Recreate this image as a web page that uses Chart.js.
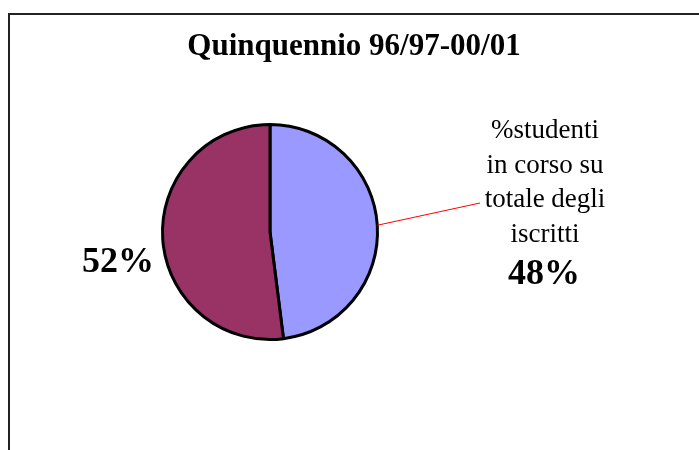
<!DOCTYPE html>
<html>
<head>
<meta charset="utf-8">
<script src="https://cdn.jsdelivr.net/npm/chart.js@4"></script>
<style>
  html, body { margin: 0; padding: 0; background: #fff; }
  #wrap { width: 699px; height: 450px; }
</style>
</head>
<body>
<div id="wrap"><canvas id="chart" width="699" height="450"></canvas></div>
<script>
const titolo = "Quinquennio 96/97-00/01";
const categorie = ["%studenti in corso su totale degli iscritti", "altri"];
const valori = [48, 52];
const colori = ["#9999ff", "#993366"];
const etichettaInCorso = ["%studenti", "in corso su", "totale degli", "iscritti"];

// cornice + etichette disegnate a mano
const decorazioni = {
  id: "decorazioni",
  afterDraw(chart) {
    const ctx = chart.ctx;
    ctx.save();

    // cornice (solo lato sinistro e alto visibili)
    ctx.strokeStyle = "#222";
    ctx.lineWidth = 2;
    ctx.beginPath();
    ctx.moveTo(9, 450);
    ctx.lineTo(9, 14);
    ctx.lineTo(699, 14);
    ctx.stroke();

    // titolo
    ctx.fillStyle = "#000";
    ctx.textAlign = "center";
    ctx.textBaseline = "alphabetic";
    ctx.font = "bold 31px 'Liberation Serif', 'Times New Roman', serif";
    ctx.fillText(titolo, 354, 55);

    const arcs = chart.getDatasetMeta(0).data;
    const tot = valori.reduce((a, b) => a + b, 0);

    // linea guida dalla fetta blu
    const a = arcs[0];
    const mid = (a.startAngle + a.endAngle) / 2;
    const x0 = a.x + Math.cos(mid) * a.outerRadius;
    const y0 = a.y + Math.sin(mid) * a.outerRadius;
    ctx.strokeStyle = "#ff0000";
    ctx.lineWidth = 1;
    ctx.beginPath();
    ctx.moveTo(x0, y0);
    ctx.lineTo(480, 203);
    ctx.stroke();

    ctx.font = "27px 'Liberation Serif', 'Times New Roman', serif";
    etichettaInCorso.forEach((t, i) => ctx.fillText(t, 545, 138 + i * 34.5));
    ctx.font = "bold 36px 'Liberation Serif', 'Times New Roman', serif";
    ctx.fillText(Math.round(valori[0] / tot * 100) + "%", 544, 284);
    ctx.fillText(Math.round(valori[1] / tot * 100) + "%", 118, 272);

    ctx.restore();
  },
};

new Chart(document.getElementById("chart"), {
  type: "pie",
  data: {
    labels: categorie,
    datasets: [
      {
        data: valori,
        backgroundColor: colori,
        borderColor: "#000",
        borderWidth: 3,
      },
    ],
  },
  options: {
    responsive: false,
    animation: false,
    events: [],
    layout: { padding: { left: 161, right: 320, top: 123, bottom: 109 } },
    plugins: {
      legend: { display: false },
      tooltip: { enabled: false },
      title: { display: false },
    },
  },
  plugins: [decorazioni],
});
</script>
</body>
</html>
